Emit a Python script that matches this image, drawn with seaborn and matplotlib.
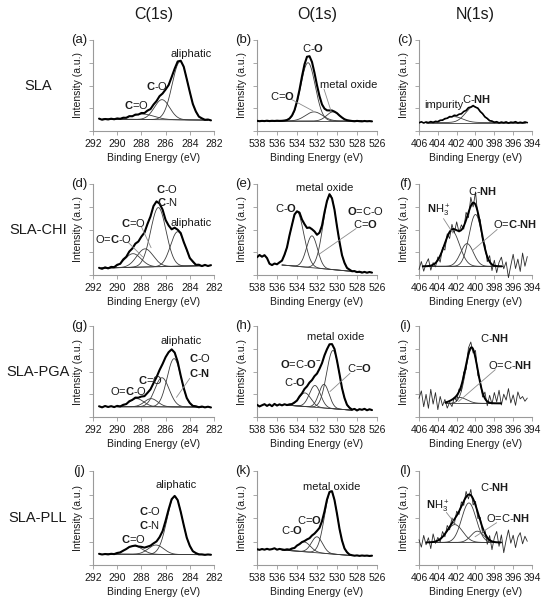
import numpy as np
import pandas as pd
import matplotlib
matplotlib.use("Agg")
import matplotlib.pyplot as plt
import seaborn as sns

sns.set_theme(style="ticks")
plt.rcParams["font.family"] = ["Liberation Sans", "DejaVu Sans"]
plt.rcParams["mathtext.fontset"] = "custom"
plt.rcParams["mathtext.rm"] = "Liberation Sans"
plt.rcParams["mathtext.it"] = "Liberation Sans:italic"
plt.rcParams["mathtext.bf"] = "Liberation Sans:bold"

# ---------------- data ----------------
column_titles = ["C(1s)", "O(1s)", "N(1s)"]
row_titles = ["SLA", "SLA-CHI", "SLA-PGA", "SLA-PLL"]
panel_letters = ["(a)", "(b)", "(c)", "(d)", "(e)", "(f)", "(g)", "(h)", "(i)", "(j)", "(k)", "(l)"]

C_ticks = [292, 290, 288, 286, 284, 282]
O_ticks = [538, 536, 534, 532, 530, 528, 526]
N_ticks = [406, 404, 402, 400, 398, 396, 394]

C_scan = (291.5, 282.25)
O_scan = (538.0, 526.5)
N_scan = (406.0, 394.5)

a_counts = [13.6, 12.4, 13.2, 12.7, 13.5, 12.9, 13.8, 13.4, 14.6, 14.5, 16.3, 16.2, 18.0, 18.1, 19.8, 19.7,
            22.4, 24.1, 29.0, 32.9, 38.3, 41.2, 45.6, 50.5, 59.3, 68.5, 76.4, 77.2, 70.6, 57.0, 43.0, 29.7,
            21.5, 15.8, 13.9, 12.3, 12.6, 11.7]
b_counts = [11.2, 10.8, 11.1, 10.9, 11.3, 10.9, 11.2, 11.0, 11.3, 11.1, 11.2, 11.5, 12.1, 13.7, 17.0, 22.8,
            32.6, 45.3, 60.1, 73.2, 81.6, 82.2, 75.8, 63.8, 50.2, 38.3, 29.2, 24.6, 22.7, 22.6, 22.5, 21.3,
            19.6, 17.0, 14.8, 12.9, 11.9, 11.4, 11.0, 10.7, 11.1, 10.8, 10.6, 11.0, 10.7, 10.9, 10.6]
c_counts = [9.0, 10.1, 8.8, 9.9, 9.2, 10.3, 9.4, 10.6, 10.2, 11.8, 11.9, 13.6, 14.0, 15.8, 15.6, 17.3,
            16.8, 18.4, 18.9, 21.4, 22.6, 25.6, 26.3, 27.9, 26.2, 25.1, 21.4, 19.1, 15.5, 13.8, 11.3, 10.9,
            9.5, 10.2, 8.9, 9.8, 9.1, 10.0, 8.7, 9.7, 9.3, 10.2, 8.9, 9.6, 9.0, 9.9, 9.2]
d_counts = [7.9, 6.8, 8.4, 7.3, 8.9, 8.6, 11.2, 12.3, 17.1, 20.0, 25.8, 29.1, 34.4, 36.8, 42.2, 46.5,
            56.0, 64.3, 75.8, 80.9, 78.4, 71.9, 60.5, 54.4, 50.2, 52.0, 49.7, 46.1, 36.2, 27.8, 18.6, 14.9,
            11.2, 11.3, 9.8, 11.1, 9.9, 10.8]
e_counts = [19.5, 22.0, 20.1, 21.8, 18.6, 12.4, 10.9, 12.6, 11.8, 13.9, 15.8, 22.3, 30.4, 43.6, 55.1, 66.5,
            70.0, 68.6, 60.9, 55.9, 51.7, 52.2, 50.3, 47.9, 44.2, 46.5, 54.3, 68.9, 81.4, 88.8, 84.2, 71.7,
            53.3, 36.4, 21.8, 13.4, 7.8, 5.9, 4.1, 4.3, 3.2, 3.6, 2.6, 3.4, 2.5, 3.3, 2.6]
f_counts = [6.1, 14.8, 4.2, 12.5, 17.9, 5.3, 13.6, 8.9, 19.8, 14.1, 30.2, 27.4, 45.3, 40.1, 55.7, 46.2,
            58.4, 47.0, 55.1, 50.3, 68.9, 63.0, 85.4, 74.8, 91.2, 64.5, 60.7, 36.8, 33.4, 14.6, 21.3, 4.8,
            16.2, 2.5, 13.9, 19.6, 6.8, 14.4, -2.9, 10.5, 22.8, 7.1, 17.5, 3.9, 24.1, 9.6, 20.3]
g_counts = [11.8, 10.6, 12.1, 11.0, 11.9, 10.9, 12.2, 11.6, 13.4, 14.2, 17.3, 18.8, 21.3, 21.2, 22.5, 22.9,
            26.5, 30.4, 37.2, 43.7, 51.6, 58.3, 65.8, 71.2, 74.3, 70.8, 60.6, 45.4, 31.7, 20.8, 15.4, 12.2,
            11.8, 10.7, 11.5, 10.6, 11.3, 10.5]
h_counts = [13.4, 11.6, 12.9, 14.1, 12.2, 13.8, 11.9, 14.4, 12.6, 13.9, 12.8, 14.0, 13.1, 13.9, 14.2, 16.0,
            18.1, 22.6, 26.0, 30.8, 33.7, 37.9, 40.6, 44.9, 47.7, 53.0, 59.2, 67.8, 74.5, 79.9, 80.1, 74.7,
            62.0, 47.3, 31.8, 20.9, 13.4, 10.2, 8.1, 8.9, 7.2, 8.6, 7.9, 9.0, 7.4, 8.5, 7.6]
i_counts = [20.5, 28.7, 11.3, 24.9, 9.6, 30.4, 14.2, 26.8, 8.1, 22.6, 12.4, 19.3, 9.8, 16.0, 11.5, 21.7,
            17.4, 30.8, 28.6, 49.3, 52.1, 75.9, 82.4, 70.3, 73.1, 45.6, 40.2, 21.9, 27.4, 12.3, 23.8, 14.1,
            26.9, 16.7, 29.4, 13.2, 25.1, 18.6, 31.2, 15.4, 24.3, 12.8, 27.6, 19.9, 22.5, 17.3, 20.8]
j_counts = [11.9, 11.2, 11.7, 11.3, 11.9, 11.6, 12.8, 13.4, 15.3, 17.0, 19.2, 20.1, 20.7, 19.7, 19.3, 18.5,
            19.5, 20.6, 23.0, 25.1, 29.6, 36.0, 47.0, 59.2, 70.0, 73.5, 69.0, 56.6, 42.4, 29.0, 20.4, 14.7,
            12.7, 11.3, 11.3, 10.8, 11.2, 10.9]
k_counts = [16.8, 16.1, 17.0, 16.3, 17.2, 16.4, 16.9, 17.8, 16.3, 17.1, 16.6, 16.1, 16.7, 16.3, 17.6, 18.1,
            20.7, 22.2, 24.4, 25.5, 27.2, 28.5, 31.4, 33.4, 36.3, 39.5, 46.6, 57.1, 69.6, 77.7, 78.5, 69.1,
            54.5, 38.5, 26.1, 17.6, 13.6, 11.1, 10.4, 9.9, 10.2, 9.7, 10.1, 9.8, 10.0, 9.6, 9.9]
l_counts = [26.9, 19.0, 31.5, 21.5, 29.0, 17.4, 33.1, 23.0, 29.4, 24.5, 35.6, 30.0, 42.1, 37.4, 50.1, 43.6,
            57.2, 53.7, 67.2, 63.4, 78.3, 70.3, 80.4, 63.9, 67.7, 49.5, 50.7, 34.3, 37.0, 22.0, 31.3, 16.3,
            29.0, 35.7, 19.9, 32.0, 13.1, 26.3, 37.3, 23.2, 31.7, 18.5, 29.7, 34.4, 22.5, 30.6, 25.2]

# fitted components: centre (eV), height above baseline, FWHM (eV)
a_centers, a_heights, a_fwhm = [284.8, 286.3, 287.9], [64, 22, 6], [1.55, 1.5, 2.2]
b_centers, b_heights, b_fwhm = [532.9, 532.3, 530.4], [64, 10, 10], [1.7, 2.0, 1.5]
c_centers, c_heights, c_fwhm = [402.3, 400.2], [6.5, 17.5], [2.2, 2.0]
d_centers, d_heights, d_fwhm = [288.7, 287.7, 286.6, 285.0], [15, 20, 65, 38], [1.6, 1.6, 1.5, 1.4]
e_centers, e_heights, e_fwhm = [534.0, 532.5, 530.7], [60, 35, 82], [1.6, 1.3, 1.6]
f_centers, f_heights, f_fwhm = [402.5, 400.9, 400.0], [39, 25, 57], [1.9, 1.6, 1.6]
g_centers, g_heights, g_fwhm = [288.4, 287.2, 286.3, 285.3], [9, 9, 32, 53], [1.4, 1.3, 1.4, 1.35]
h_centers, h_heights, h_fwhm = [533.2, 532.2, 531.3, 530.4], [15, 24, 26, 64], [1.4, 1.3, 1.2, 1.5]
i_centers, i_heights, i_fwhm = [401.7, 400.4], [6.5, 60], [1.8, 1.5]
j_centers, j_heights, j_fwhm = [288.6, 286.8, 285.25], [9, 10, 62], [1.6, 1.5, 1.5]
k_centers, k_heights, k_fwhm = [533.3, 532.0, 530.6], [10.5, 17, 67], [1.5, 1.3, 1.5]
l_centers, l_heights, l_fwhm = [402.2, 400.7, 399.8], [19, 42, 12], [2.0, 1.8, 1.6]

# baselines: start eV, end eV, start intensity, end intensity
a_base = [291.2, 282.5, 13.0, 12.0]
b_base = [537.0, 527.5, 11.0, 11.0]
c_base = [405.3, 394.7, 9.3, 9.3]
d_base = [291.3, 282.5, 7.6, 10.4]
e_base = [535.5, 527.5, 11.0, 3.0]
f_base = [405.6, 397.2, 9.5, 9.5]
g_base = [290.0, 283.0, 11.3, 11.0]
h_base = [535.0, 528.5, 13.0, 7.5]
i_base = [403.2, 397.3, 15.0, 15.0]
j_base = [291.0, 282.7, 11.5, 11.0]
k_base = [535.5, 528.5, 16.0, 10.0]
l_base = [405.2, 397.3, 24.0, 24.0]

# peak labels: text, energy, intensity
a_labels = [("aliphatic", 283.9, 85), (r"$\mathbf{C}$-O", 286.7, 50), (r"$\mathbf{C}$=O", 288.4, 29)]
b_labels = [(r"C-$\mathbf{O}$", 532.4, 91), (r"C=$\mathbf{O}$", 535.5, 38), ("metal oxide", 528.8, 50.5)]
c_labels = [("impurity", 403.35, 28.6), (r"C-$\mathbf{NH}$", 399.9, 35)]
d_labels = [(r"$\mathbf{C}$-O", 285.85, 94.5), (r"$\mathbf{C}$-N", 285.85, 80.6), (r"$\mathbf{C}$=O", 288.7, 57.4),
            ("aliphatic", 283.85, 57.4), (r"O=$\mathbf{C}$-O", 290.3, 39.6)]
e_labels = [(r"C-$\mathbf{O}$", 535.1, 74), ("metal oxide", 531.2, 96), (r"$\mathbf{O}$=C-O", 527.1, 70),
            (r"C=$\mathbf{O}$", 527.2, 56)]
f_labels = [(r"C-$\mathbf{NH}$", 399.3, 92), (r"$\mathbf{N}$H$_3^+$", 403.9, 71),
            (r"O=$\mathbf{C}$-$\mathbf{NH}$", 395.8, 56)]
g_labels = [("aliphatic", 284.75, 83), (r"$\mathbf{C}$-O", 283.2, 64.5), (r"$\mathbf{C}$-$\mathbf{N}$", 283.2, 48),
            (r"$\mathbf{C}$=O", 287.25, 41), (r"O=$\mathbf{C}$-O", 289.1, 28.6)]
h_labels = [("metal oxide", 530.1, 88), (r"$\mathbf{O}$=C-$\mathbf{O}^{-}$", 533.6, 58), (r"C=$\mathbf{O}$", 527.8, 53.5),
            (r"C-$\mathbf{O}$", 534.2, 39)]
i_labels = [(r"C-$\mathbf{NH}$", 398.0, 86.4), (r"O=C-$\mathbf{NH}$", 396.3, 57)]
j_labels = [("aliphatic", 285.1, 85), (r"$\mathbf{C}$-O", 287.3, 57), (r"$\mathbf{C}$-N", 287.3, 43),
            (r"$\mathbf{C}$=O", 288.7, 28)]
k_labels = [("metal oxide", 530.5, 83.4), (r"C=$\mathbf{O}$", 532.8, 48), (r"C-$\mathbf{O}$", 534.5, 37.5)]
l_labels = [(r"C-$\mathbf{NH}$", 398.0, 83.4), (r"$\mathbf{N}$H$_3^+$", 404.05, 62), (r"O=C-$\mathbf{NH}$", 396.5, 50)]

# leader lines: (E1, I1, E2, I2)
b_leaders = [(534.6, 35, 532.4, 22), (531.3, 46, 530.6, 22)]
d_leaders = [(289.1, 36, 287.9, 20), (288.0, 53, 287.2, 30)]
e_leaders = [(528.1, 51, 531.9, 22)]
f_leaders = [(403.4, 62, 402.4, 46), (397.7, 50, 400.3, 27)]
g_leaders = [(284.0, 42.5, 285.1, 21.6)]
h_leaders = [(528.7, 48, 530.7, 28)]
i_leaders = [(397.9, 52, 401.8, 17)]
l_leaders = [(403.1, 56, 402.0, 42), (397.75, 45, 400.05, 30)]

panels = [
    dict(counts=a_counts, scan=C_scan, ticks=C_ticks, cen=a_centers, hgt=a_heights, fw=a_fwhm, base=a_base, labels=a_labels, leaders=[], kind="thick"),
    dict(counts=b_counts, scan=O_scan, ticks=O_ticks, cen=b_centers, hgt=b_heights, fw=b_fwhm, base=b_base, labels=b_labels, leaders=b_leaders, kind="thick"),
    dict(counts=c_counts, scan=N_scan, ticks=N_ticks, cen=c_centers, hgt=c_heights, fw=c_fwhm, base=c_base, labels=c_labels, leaders=[], kind="medium"),
    dict(counts=d_counts, scan=C_scan, ticks=C_ticks, cen=d_centers, hgt=d_heights, fw=d_fwhm, base=d_base, labels=d_labels, leaders=d_leaders, kind="thick"),
    dict(counts=e_counts, scan=O_scan, ticks=O_ticks, cen=e_centers, hgt=e_heights, fw=e_fwhm, base=e_base, labels=e_labels, leaders=e_leaders, kind="thick"),
    dict(counts=f_counts, scan=N_scan, ticks=N_ticks, cen=f_centers, hgt=f_heights, fw=f_fwhm, base=f_base, labels=f_labels, leaders=f_leaders, kind="noisy"),
    dict(counts=g_counts, scan=C_scan, ticks=C_ticks, cen=g_centers, hgt=g_heights, fw=g_fwhm, base=g_base, labels=g_labels, leaders=g_leaders, kind="thick"),
    dict(counts=h_counts, scan=O_scan, ticks=O_ticks, cen=h_centers, hgt=h_heights, fw=h_fwhm, base=h_base, labels=h_labels, leaders=h_leaders, kind="thick"),
    dict(counts=i_counts, scan=N_scan, ticks=N_ticks, cen=i_centers, hgt=i_heights, fw=i_fwhm, base=i_base, labels=i_labels, leaders=i_leaders, kind="noisy"),
    dict(counts=j_counts, scan=C_scan, ticks=C_ticks, cen=j_centers, hgt=j_heights, fw=j_fwhm, base=j_base, labels=j_labels, leaders=[], kind="thick"),
    dict(counts=k_counts, scan=O_scan, ticks=O_ticks, cen=k_centers, hgt=k_heights, fw=k_fwhm, base=k_base, labels=k_labels, leaders=[], kind="thick"),
    dict(counts=l_counts, scan=N_scan, ticks=N_ticks, cen=l_centers, hgt=l_heights, fw=l_fwhm, base=l_base, labels=l_labels, leaders=l_leaders, kind="noisy"),
]

# ---------------- layout ----------------
W, H = 548, 601
col_px = [(93, 214), (257, 377), (419, 532)]
row_px = [(40, 131), (184, 275), (326, 417), (471, 565)]

fig = plt.figure(figsize=(W / 100, H / 100), dpi=100)
fig.patch.set_facecolor("white")

def gauss(E, c, h, w):
    s = w / 2.3548
    return h * np.exp(-0.5 * ((E - c) / s) ** 2)

comp_col = "#3c3c3c"
lead_col = "#8c8c8c"
axis_col = "#9a9a9a"
text_col = "#1a1a1a"

for idx, p in enumerate(panels):
    r, c = divmod(idx, 3)
    x0, x1 = col_px[c]
    y0, y1 = row_px[r]
    ax = fig.add_axes([x0 / W, 1 - y1 / H, (x1 - x0) / W, (y1 - y0) / H])
    ax.set_facecolor("white")

    E = np.linspace(p["scan"][0], p["scan"][1], len(p["counts"]))
    df = pd.DataFrame({"Binding Energy (eV)": E, "Intensity": p["counts"]})

    lo, hi, ylo, yhi = p["base"]
    Ef = np.linspace(lo, hi, 400)
    base = ylo + (yhi - ylo) * (Ef - lo) / (hi - lo)
    env = base.copy()
    for cc, hh, ww in zip(p["cen"], p["hgt"], p["fw"]):
        g = gauss(Ef, cc, hh, ww)
        env = env + g
        ax.plot(Ef, base + g, color=comp_col, lw=0.6, zorder=2)
    ax.plot(Ef, base, color=comp_col, lw=0.6, zorder=2)

    if p["kind"] == "noisy":
        sns.lineplot(data=df, x="Binding Energy (eV)", y="Intensity", ax=ax, color="#2a2a2a",
                     lw=0.6, estimator=None, sort=False, zorder=3, clip_on=False)
        ax.plot(Ef, env, color="black", lw=1.4, zorder=4)
    else:
        lw = 1.5 if p["kind"] == "thick" else 1.2
        sns.lineplot(data=df, x="Binding Energy (eV)", y="Intensity", ax=ax, color="black",
                     lw=lw, estimator=None, sort=False, zorder=4)

    for (e1, i1, e2, i2) in p["leaders"]:
        ax.plot([e1, e2], [i1, i2], color=lead_col, lw=0.6, zorder=5)
    for (txt, ex, iy) in p["labels"]:
        ax.text(ex, iy, txt, ha="center", va="center", fontsize=8, color=text_col, zorder=6)

    ticks = p["ticks"]
    ax.set_xlim(ticks[0], ticks[-1])
    ax.set_ylim(0, 100)
    ax.set_xticks(ticks)
    ax.set_xticklabels([str(t) for t in ticks])
    ax.set_yticks([0, 25, 50, 75, 100])
    ax.set_yticklabels([])
    ax.tick_params(axis="both", direction="out", length=3, width=0.6, color=axis_col,
                   labelsize=7.5, labelcolor=text_col, pad=2.5)
    for side in ["top", "right"]:
        ax.spines[side].set_visible(False)
    for side in ["left", "bottom"]:
        ax.spines[side].set_color(axis_col)
        ax.spines[side].set_linewidth(0.8)
    ax.set_xlabel("Binding Energy (eV)", fontsize=7.5, color=text_col, labelpad=3)
    ax.set_ylabel("Intensity (a.u.)", fontsize=7.5, color=text_col, labelpad=2)
    ax.text(-14 / (x1 - x0), 1.0, panel_letters[idx], transform=ax.transAxes,
            ha="center", va="center", fontsize=9.5, color=text_col)

for c, t in enumerate(column_titles):
    cx = (col_px[c][0] + col_px[c][1]) / 2
    fig.text(cx / W, 1 - 15 / H, t, ha="center", va="center", fontsize=11.5, color=text_col)
for r, t in enumerate(row_titles):
    cy = (row_px[r][0] + row_px[r][1]) / 2
    fig.text(38 / W, 1 - cy / H, t, ha="center", va="center", fontsize=10.5, color=text_col)

fig.savefig("out.png", dpi=100, facecolor="white")
